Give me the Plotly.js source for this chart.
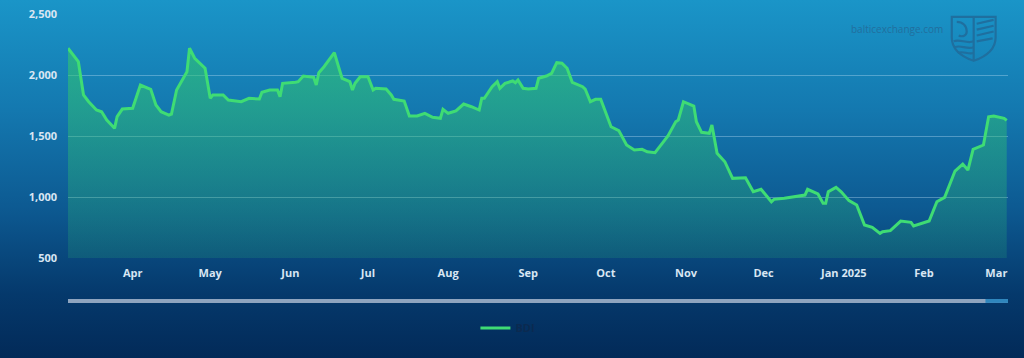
<!DOCTYPE html>
<html>
<head>
<meta charset="utf-8">
<script src="https://cdn.plot.ly/plotly-3.0.1.min.js"></script>
<style>
  html, body { margin:0; padding:0; width:1024px; height:358px; overflow:hidden; }
  body { background: linear-gradient(to bottom, #1a95c8 0%, #1479b0 30%, #0d5a92 58%, #05396c 82%, #022a58 100%); }
  #chart { width:1024px; height:358px; }
</style>
</head>
<body>
<div id="chart"></div>
<script>
// BDI daily values
const dates = [
  '2024-03-07','2024-03-11','2024-03-13','2024-03-15','2024-03-18','2024-03-20','2024-03-22','2024-03-25','2024-03-26','2024-03-28',
  '2024-04-01','2024-04-04','2024-04-08','2024-04-10','2024-04-12','2024-04-15','2024-04-16','2024-04-18','2024-04-22','2024-04-23',
  '2024-04-25','2024-04-29','2024-05-01','2024-05-02','2024-05-06','2024-05-08','2024-05-13','2024-05-16','2024-05-20','2024-05-21',
  '2024-05-24','2024-05-27','2024-05-28','2024-05-29','2024-06-03','2024-06-04','2024-06-06','2024-06-10','2024-06-11','2024-06-12',
  '2024-06-14','2024-06-18','2024-06-20','2024-06-21','2024-06-24','2024-06-25','2024-06-26','2024-06-28','2024-07-01','2024-07-03',
  '2024-07-04','2024-07-08','2024-07-10','2024-07-11','2024-07-15','2024-07-17','2024-07-20','2024-07-23','2024-07-26','2024-07-29',
  '2024-07-30','2024-08-01','2024-08-04','2024-08-07','2024-08-10','2024-08-13','2024-08-14','2024-08-15','2024-08-18','2024-08-20',
  '2024-08-21','2024-08-23','2024-08-26','2024-08-27','2024-08-28','2024-08-30','2024-09-01','2024-09-04','2024-09-05','2024-09-08',
  '2024-09-10','2024-09-12','2024-09-14','2024-09-16','2024-09-18','2024-09-22','2024-09-23','2024-09-25','2024-09-27','2024-09-29',
  '2024-10-03','2024-10-06','2024-10-09','2024-10-12','2024-10-15','2024-10-17','2024-10-20','2024-10-25','2024-10-28','2024-10-29',
  '2024-10-31','2024-11-04','2024-11-05','2024-11-07','2024-11-10','2024-11-11','2024-11-13','2024-11-16','2024-11-19','2024-11-24',
  '2024-11-27','2024-11-30','2024-12-04','2024-12-05','2024-12-09','2024-12-17','2024-12-18','2024-12-22','2024-12-24','2024-12-25',
  '2024-12-26','2024-12-29','2024-12-31','2025-01-03','2025-01-06','2025-01-09','2025-01-12','2025-01-15','2025-01-16','2025-01-19',
  '2025-01-23','2025-01-27','2025-01-28','2025-01-31','2025-02-03','2025-02-06','2025-02-09','2025-02-13','2025-02-16','2025-02-18',
  '2025-02-20','2025-02-24','2025-02-26','2025-02-28','2025-03-04','2025-03-05'
];
const bdi = [
  2219,2109,1836,1781,1713,1699,1631,1563,1658,1721,
  1727,1918,1883,1754,1699,1672,1680,1877,2027,2219,
  2137,2055,1809,1836,1836,1795,1781,1809,1803,1858,
  1877,1877,1822,1932,1940,1945,1992,1981,1918,2019,
  2068,2183,2041,1973,1945,1877,1932,1986,1986,1877,
  1891,1885,1836,1801,1787,1664,1664,1686,1653,1645,
  1719,1686,1705,1762,1740,1713,1809,1809,1904,1945,
  1891,1932,1951,1937,1959,1891,1885,1891,1973,1992,
  2014,2101,2096,2055,1940,1904,1885,1781,1801,1801,
  1576,1544,1426,1385,1391,1371,1363,1500,1617,1631,
  1781,1746,1617,1530,1522,1590,1358,1289,1153,1158,
  1043,1063,961,981,989,1016,1063,1025,948,948,
  1043,1079,1043,970,934,770,751,702,716,724,
  803,792,762,784,803,961,997,1213,1270,1221,
  1391,1426,1658,1664,1645,1628
];
const seriesName = 'BDI';
const yTicks = [500, 1000, 1500, 2000, 2500];
const xTickVals = ['2024-04-01','2024-05-01','2024-06-01','2024-07-01','2024-08-01','2024-09-01','2024-10-01','2024-11-01','2024-12-01','2025-01-01','2025-02-01','2025-03-01'];
const xTickText = ['Apr','May','Jun','Jul','Aug','Sep','Oct','Nov','Dec','Jan 2025','Feb','Mar'];

const labelFont = {family: '"Open Sans", "DejaVu Sans", sans-serif', size: 11, color: '#d8e6f3', weight: 700};
const lineColor = '#3fdc74';

const logoSvg = "<svg xmlns='http://www.w3.org/2000/svg' width='50' height='50' viewBox='0 0 50 50'>" +
  "<g fill='none' stroke='#1f6f9f' stroke-width='2.2'>" +
  "<path d='M3 3 H47 V24 C47 37 36 44 25 48 C14 44 3 37 3 24 Z'/>" +
  "<path d='M25 3 V48'/>" +
  "<path d='M5 28 C11 25 18 31 25 28'/><path d='M6 34 C12 31 18 37 25 34'/><path d='M9 40 C14 37 19 42 25 40'/>" +
  "<path d='M28 10 L45 6'/><path d='M28 16 L45 12'/><path d='M28 22 L45 18'/><path d='M28 28 L44 25'/>" +
  "<path d='M8 8 C14 8 18 12 18 18 C18 22 14 24 10 22'/>" +
  "</g></svg>";

const areaTrace = {
  x: dates,
  y: bdi,
  type: 'scatter',
  mode: 'lines',
  name: seriesName,
  legendgroup: 'bdi',
  showlegend: false,
  line: {color: lineColor, width: 3},
  fill: 'tozeroy',
  fillcolor: 'rgba(50,190,110,0.45)',
  fillgradient: {
    type: 'vertical',
    start: 500,
    stop: 2250,
    colorscale: [[0, 'rgba(45,185,115,0.18)'], [1, 'rgba(50,200,110,0.62)']]
  },
  hoverinfo: 'x+y'
};

// legend entry (line only, as in the reference)
const legendTrace = {
  x: [null], y: [null],
  type: 'scatter', mode: 'lines',
  name: seriesName,
  legendgroup: 'bdi',
  showlegend: true,
  line: {color: lineColor, width: 3},
  hoverinfo: 'skip'
};

const layout = {
  width: 1024,
  height: 358,
  margin: {l: 68, r: 16, t: 14, b: 100},
  paper_bgcolor: 'rgba(0,0,0,0)',
  plot_bgcolor: 'rgba(0,0,0,0)',
  showlegend: true,
  legend: {
    orientation: 'h',
    x: 0.468, xanchor: 'center',
    y: -0.287, yanchor: 'middle',
    font: {family: '"Open Sans", sans-serif', size: 11, color: '#0b2a50', weight: 700},
    bgcolor: 'rgba(0,0,0,0)'
  },
  xaxis: {
    type: 'date',
    range: ['2024-03-07', '2025-03-05 12:00'],
    tickvals: xTickVals,
    ticktext: xTickText,
    showgrid: false,
    zeroline: false,
    showline: false,
    ticks: '',
    tickfont: labelFont,
    ticklabelstandoff: 7,
    fixedrange: true
  },
  yaxis: {
    range: [500, 2500],
    tickvals: yTicks,
    tickformat: ',d',
    showgrid: true,
    gridcolor: 'rgba(185,220,245,0.38)',
    gridwidth: 1,
    zeroline: false,
    showline: false,
    ticks: '',
    tickfont: labelFont,
    ticklabelstandoff: 10,
    fixedrange: true
  },
  shapes: [
    {type: 'rect', xref: 'paper', yref: 'paper', x0: 0, x1: 1, y0: -0.184, y1: -0.168,
     fillcolor: '#8ea4bf', line: {width: 0}, layer: 'above'},
    {type: 'rect', xref: 'paper', yref: 'paper', x0: 0.976, x1: 1, y0: -0.184, y1: -0.168,
     fillcolor: '#2f86bd', line: {width: 0}, layer: 'above'}
  ],
  annotations: [
    {xref: 'paper', yref: 'paper', x: 0.933, y: 0.94, xanchor: 'right', yanchor: 'middle',
     text: 'balticexchange.com', showarrow: false,
     font: {family: '"Open Sans", sans-serif', size: 10, color: '#216f9e'}}
  ],
  images: [
    {source: 'data:image/svg+xml;utf8,' + encodeURIComponent(logoSvg),
     xref: 'paper', yref: 'paper', x: 0.937, y: 1.0, sizex: 0.053, sizey: 0.2,
     xanchor: 'left', yanchor: 'top', sizing: 'stretch', layer: 'above'}
  ]
};

Plotly.newPlot('chart', [areaTrace, legendTrace], layout, {displayModeBar: false, staticPlot: true});
</script>
</body>
</html>
